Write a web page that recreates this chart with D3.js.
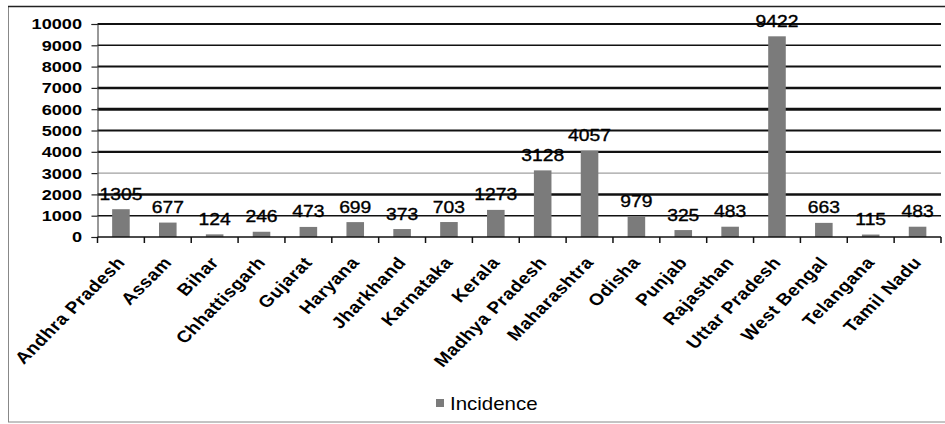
<!DOCTYPE html>
<html><head><meta charset="utf-8">
<script src="https://cdn.jsdelivr.net/npm/d3@7"></script>
<style>
html,body{margin:0;padding:0;background:#fff;}
svg{display:block;}
text{font-family:"Liberation Sans",Arial,sans-serif;}
</style></head>
<body>
<svg id="chart" width="945" height="424"></svg>
<script>
const states = ["Andhra Pradesh","Assam","Bihar","Chhattisgarh","Gujarat","Haryana","Jharkhand","Karnataka","Kerala","Madhya Pradesh","Maharashtra","Odisha","Punjab","Rajasthan","Uttar Pradesh","West Bengal","Telangana","Tamil Nadu"];
const incidence = [1305,677,124,246,473,699,373,703,1273,3128,4057,979,325,483,9422,663,115,483];
const yTicks = [0,1000,2000,3000,4000,5000,6000,7000,8000,9000,10000];
const seriesName = "Incidence";

// styling of gridlines (per tick above zero), mimicking the reference rendering
const gridWidths = {1000:1.5,2000:2.5,3000:1,4000:2.2,5000:2,6000:3,7000:2.5,8000:2,9000:1.5,10000:2};
const gridColors = {3000:"#888"};

const svg = d3.select("#chart");
const plotL = 97.5, plotR = 941, plotT = 24, plotB = 237;
const sx = 1.17; // horizontal stretch of the reference's text

// outer border
svg.append("rect").attr("x",8.5).attr("y",6.5).attr("width",960).attr("height",415.5)
  .attr("fill","none").attr("stroke","#888").attr("stroke-width",1);
svg.append("line").attr("x1",8).attr("x2",945).attr("y1",6.5).attr("y2",6.5).attr("stroke","#222").attr("stroke-width",1.5);

const x = d3.scaleBand().domain(states).range([plotL,plotR]).paddingInner(0.625).paddingOuter(0.3125);
const y = d3.scaleLinear().domain([0,10000]).range([plotB,plotT]);

// gridlines
svg.append("g").selectAll("line").data(yTicks.filter(t=>t>0)).join("line")
  .attr("x1",plotL).attr("x2",plotR)
  .attr("y1",d=>y(d)).attr("y2",d=>y(d))
  .attr("stroke",d=>gridColors[d]||"#111")
  .attr("stroke-width",d=>gridWidths[d]||1);

// y axis
const yAxis = d3.axisLeft(y).tickValues(yTicks).tickSize(6).tickPadding(9).tickFormat(d3.format("d"));
const gy = svg.append("g").attr("transform",`translate(${plotL},0)`).call(yAxis);
gy.select(".domain").attr("stroke","#333").attr("stroke-width",1);
gy.selectAll(".tick line").attr("stroke","#222").attr("stroke-width",1.2);
gy.selectAll(".tick text")
  .attr("x",-15.5/sx).attr("transform",`scale(${sx},1)`)
  .attr("font-size","15.5px").attr("font-weight","bold")
  .attr("fill","#000").attr("font-family","Liberation Sans, Arial, sans-serif");

// bars
svg.append("g").selectAll("rect").data(states).join("rect")
  .attr("x",d=>x(d)).attr("width",x.bandwidth())
  .attr("y",(d,i)=>y(incidence[i])).attr("height",(d,i)=>plotB-y(incidence[i]))
  .attr("fill","#7b7b7b");

// x axis
const boundaries = d3.range(states.length+1).map(i=>plotL+(plotR-plotL)*i/states.length);
svg.append("line").attr("x1",plotL).attr("x2",plotR).attr("y1",plotB).attr("y2",plotB)
  .attr("stroke","#111").attr("stroke-width",1.5);
svg.append("g").selectAll("line").data(boundaries).join("line")
  .attr("x1",d=>d).attr("x2",d=>d).attr("y1",plotB).attr("y2",plotB+6)
  .attr("stroke","#111").attr("stroke-width",1.5);

// x labels (stretched horizontally, appearing at 45 degrees)
const rot = -Math.atan(sx)*180/Math.PI;
svg.append("g").selectAll("text").data(states).join("text")
  .attr("transform",d=>`translate(${x(d)+x.bandwidth()/2+5},${plotB+26}) scale(${sx},1) rotate(${rot})`)
  .attr("text-anchor","end")
  .attr("font-size","16.5px").attr("font-weight","bold").attr("letter-spacing","0.5px")
  .attr("fill","#000")
  .text(d=>d);

// data labels
svg.append("g").selectAll("text").data(states).join("text")
  .attr("transform",(d,i)=>`translate(${x(d)+x.bandwidth()/2},${y(incidence[i])-9.5}) scale(${sx},1)`)
  .attr("text-anchor","middle")
  .attr("font-size","16.5px")
  .attr("fill","#000").attr("stroke","#000").attr("stroke-width",0.35)
  .text((d,i)=>incidence[i]);

// legend
svg.append("rect").attr("x",436).attr("y",399).attr("width",8).attr("height",8).attr("fill","#7b7b7b");
svg.append("text").attr("transform",`translate(450,409.5) scale(${sx},1)`).attr("font-size","17.5px")
  .attr("fill","#000").text(seriesName);
</script>
</body></html>
